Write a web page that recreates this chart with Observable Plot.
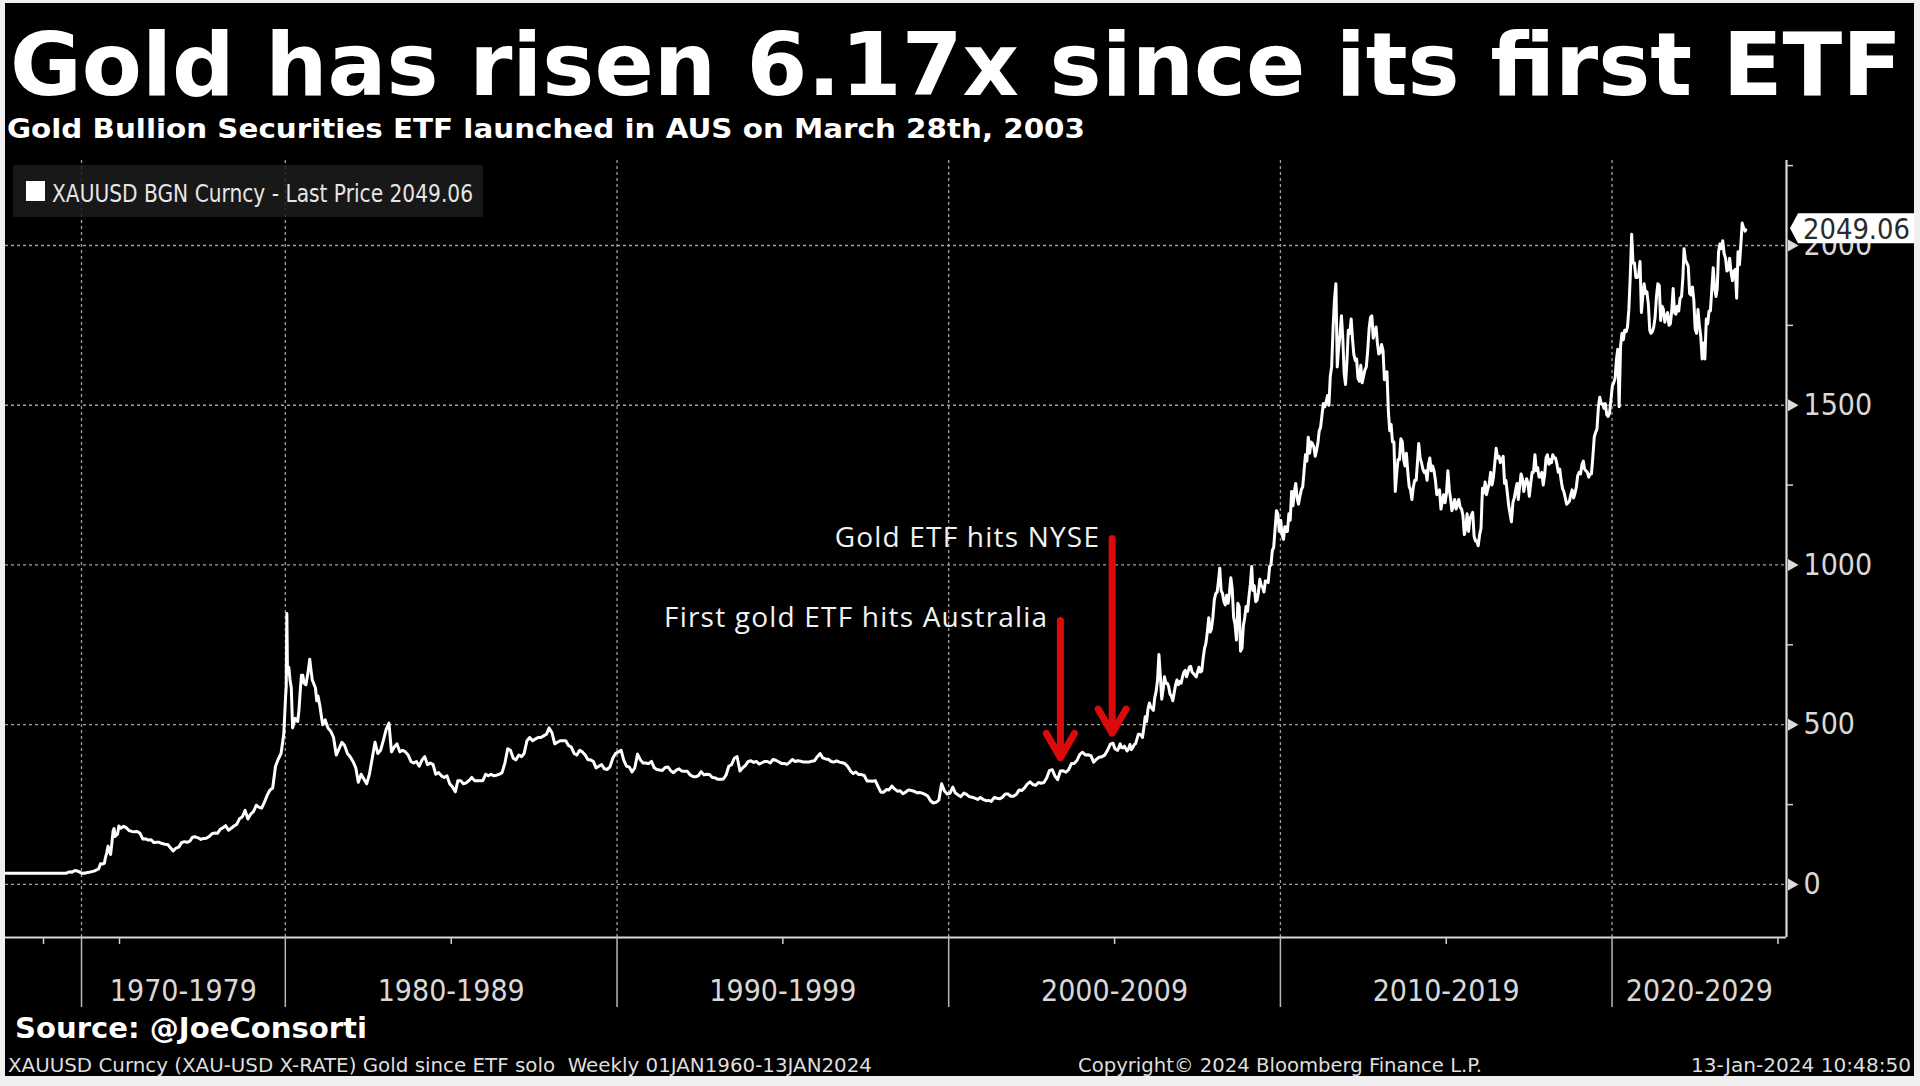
<!DOCTYPE html>
<html><head><meta charset="utf-8">
<script src="https://cdn.jsdelivr.net/npm/d3@7"></script>
<script src="https://cdn.jsdelivr.net/npm/@observablehq/plot@0.6"></script>
<style>
html,body{margin:0;padding:0;background:#efefef;width:1920px;height:1086px;overflow:hidden;}
#frame{position:absolute;left:5px;top:3px;width:1909px;height:1073px;background:#000;}
#chart{position:absolute;left:0;top:140px;}
#overlay{position:absolute;left:0;top:0;overflow:hidden;}
</style></head><body>
<div id="frame"></div>
<div id="chart"></div>
<svg id="overlay" width="1920" height="1086" xmlns="http://www.w3.org/2000/svg"></svg>
<script>
// ---------- DATA ----------
const early = [
 ["1960-01-01",35.1],["1961-01-01",35.3],["1962-01-01",35.1],["1963-01-01",35.1],["1964-01-01",35.1],
 ["1965-01-01",35.1],["1966-01-01",35.1],["1967-01-01",35.2],["1968-01-01",35.2],["1968-04-01",38],
 ["1968-07-01",39.5],["1968-10-01",38.5],["1969-01-01",42],["1969-04-01",43.5],["1969-07-01",41.5],
 ["1969-10-01",39],["1970-01-01",35],["1970-04-01",35.5],["1970-07-01",35.3],["1970-10-01",37.5],
 ["1971-01-01",38],["1971-04-01",39.5],["1971-07-01",41],["1971-10-01",42.5],["1972-01-01",46],
 ["1972-04-01",48.5],["1972-07-01",65],["1972-10-01",64],["1973-01-01",66],["1973-03-01",85],
 ["1973-05-01",100],["1973-07-01",120],["1973-09-01",103],["1973-11-01",94],["1974-01-01",130],
 ["1974-03-01",168],["1974-04-15",175],["1974-06-01",150],["1974-08-01",155],["1974-10-01",158],
 ["1974-12-01",183]
];
// monthly, Jan 1975 - Dec 1979
const monthly1975to1979 = [
 176,182,178,169,166,165,166,160,142,143,139,140,
 131,132,132,128,126,125,115,105,114,117,131,134,
 132,136,148,149,146,141,144,145,150,159,161,160,
 173,178,184,170,176,183,188,206,212,232,205,220,
 228,248,242,239,257,279,295,302,370,392,410,470
];
const weekly1980 = [
 ["1980-01-04",588],["1980-01-11",620],["1980-01-18",848],["1980-01-25",660],["1980-02-08",680],
 ["1980-02-22",640],["1980-03-07",615],["1980-03-21",490],["1980-04-04",505],["1980-04-18",520],
 ["1980-05-02",515],["1980-05-16",510],["1980-05-30",545],["1980-06-13",605],["1980-06-27",655],
 ["1980-07-11",655],["1980-07-25",630],["1980-08-15",625],["1980-09-05",660],["1980-09-26",705],
 ["1980-10-10",670],["1980-10-24",640],["1980-11-14",625],["1980-11-28",615],["1980-12-12",575],
 ["1980-12-26",590]
];
// monthly, Jan 1981 - Dec 2004
const monthly1981to2004 = [
 560,500,515,490,480,460,405,425,445,435,410,400,
 385,365,320,345,330,315,345,395,445,410,420,450,
 485,505,415,430,440,415,420,415,405,385,380,385,
 370,390,400,375,380,375,345,350,340,335,340,315,
 305,290,325,325,315,318,325,335,325,325,325,325,
 345,340,345,340,342,345,350,380,425,420,395,390,
 405,400,410,450,460,450,455,460,460,465,470,490,
 475,440,445,450,450,450,435,430,410,405,420,415,
 405,390,390,385,365,370,375,362,360,368,395,410,
 415,420,390,370,368,352,365,408,390,380,380,378,
 385,365,360,358,357,366,368,356,350,358,362,355,
 354,354,343,338,337,341,353,343,345,344,335,334,
 329,329,330,342,370,375,395,400,355,365,373,385,
 387,382,385,377,381,385,385,380,391,389,384,379,
 379,376,382,391,385,387,386,383,383,383,386,387,
 400,410,396,393,392,385,383,387,383,381,378,369,
 355,347,352,344,344,341,324,324,323,325,306,289,
 289,297,296,308,299,292,293,284,289,296,294,292,
 287,288,286,282,277,262,255,257,264,315,293,283,
 285,305,286,280,275,286,282,275,273,270,266,272,
 266,262,263,260,272,270,268,273,283,283,276,276,
 282,296,294,302,314,321,313,310,319,317,319,333,
 357,359,340,328,355,356,351,360,379,379,389,407,
 414,405,406,403,383,392,398,400,405,420,439,442
];
// twice a month, Jan 2005 - Dec 2023
const semiMonthly2005to2023 = [
 425,422,420,430,440,428,428,433,425,418,425,438,422,428,437,440,455,470,470,468,460,490,525,510,
 550,568,555,550,545,585,605,640,720,655,580,610,650,630,630,620,595,590,575,600,625,640,625,635,
 630,650,665,670,650,663,680,683,665,660,655,650,665,680,665,668,710,740,755,790,835,790,800,835,
 890,910,915,950,990,920,910,885,875,905,880,915,960,925,835,815,765,880,870,730,740,810,835,870,
 855,900,940,995,920,935,885,890,915,955,935,930,915,950,950,945,995,1000,1045,1055,1115,1170,1160,1105,
 1140,1095,1080,1120,1105,1105,1160,1140,1230,1185,1230,1255,1210,1190,1215,1235,1245,1295,1345,1325,1400,1350,1385,1380,
 1370,1340,1360,1385,1420,1430,1470,1505,1495,1510,1530,1500,1590,1620,1740,1830,1880,1620,1680,1720,1780,1710,1600,1565,
 1640,1735,1725,1770,1710,1660,1640,1645,1585,1575,1625,1570,1590,1610,1620,1670,1740,1775,1780,1710,1730,1745,1695,1660,
 1665,1690,1670,1580,1590,1605,1480,1420,1440,1385,1385,1230,1285,1330,1330,1395,1385,1330,1310,1350,1290,1245,1235,1205,
 1245,1265,1265,1325,1380,1335,1320,1300,1290,1295,1265,1315,1335,1295,1310,1295,1265,1220,1225,1235,1175,1200,1220,1195,
 1225,1295,1235,1205,1170,1185,1205,1175,1190,1205,1180,1175,1155,1095,1115,1160,1105,1145,1155,1165,1090,1075,1075,1060,
 1095,1115,1240,1225,1260,1220,1240,1255,1290,1250,1275,1320,1365,1335,1340,1320,1330,1340,1255,1265,1225,1185,1160,1135,
 1195,1210,1235,1255,1205,1245,1285,1270,1230,1255,1270,1255,1215,1255,1290,1290,1345,1295,1305,1275,1275,1290,1250,1280,
 1335,1345,1315,1330,1320,1345,1335,1335,1315,1290,1300,1265,1240,1230,1210,1190,1195,1200,1220,1235,1210,1225,1245,1280,
 1290,1285,1315,1325,1300,1295,1290,1275,1285,1285,1340,1400,1415,1425,1495,1525,1505,1505,1490,1505,1470,1465,1475,1515,
 1560,1570,1585,1645,1675,1495,1685,1725,1705,1735,1730,1745,1800,1900,2035,1945,1945,1900,1900,1905,1950,1790,1840,1880,
 1850,1855,1815,1735,1725,1730,1745,1775,1840,1880,1875,1765,1810,1800,1760,1780,1790,1750,1755,1795,1865,1790,1785,1810,
 1795,1835,1840,1900,1990,1955,1945,1935,1850,1845,1870,1830,1740,1725,1800,1750,1715,1645,1695,1645,1770,1755,1795,1795,
 1865,1930,1865,1840,1865,1980,2005,1990,2015,1975,1960,1920,1925,1960,1915,1890,1920,1925,1835,1980,1940,2000,2070,2055
];
const jan2024 = [["2024-01-05",2045],["2024-01-12",2049.06]];
const lastPrice = 2049.06;

const decadeStarts = [1970, 1980, 1990, 2000, 2010, 2020];
const decadeLabels = ["1970-1979", "1980-1989", "1990-1999", "2000-2009", "2010-2019", "2020-2029"];
const minorYearTicks = [1965, 1975, 1985, 1995, 2005, 2015, 2025];
const yTicks = [0, 500, 1000, 1500, 2000];
const yMinorTicks = [250, 750, 1250, 1750, 2250];
const annotationLabels = ["First gold ETF hits Australia", "Gold ETF hits NYSE"];
const annotationDates = ["2003-05-15", "2004-12-05"];
const annotationTop = [826, 1083];
const annotationTip = [397, 473];
const annotationTextY = [834, 1084];

// ---------- build series ----------
const series = [];
early.forEach(([d, v]) => series.push({date: new Date(d), price: v}));
monthly1975to1979.forEach((v, i) => series.push({date: new Date(Date.UTC(1975 + Math.floor(i / 12), i % 12, 15)), price: v}));
weekly1980.forEach(([d, v]) => series.push({date: new Date(d), price: v}));
monthly1981to2004.forEach((v, i) => series.push({date: new Date(Date.UTC(1981 + Math.floor(i / 12), i % 12, 15)), price: v}));
semiMonthly2005to2023.forEach((v, i) => {
  const m = Math.floor(i / 2);
  series.push({date: new Date(Date.UTC(2005 + Math.floor(m / 12), m % 12, i % 2 ? 19 : 4)), price: v});
});
jan2024.forEach(([d, v]) => series.push({date: new Date(d), price: v}));
series.sort((a, b) => a.date - b.date);

const annotations = annotationLabels.map((label, i) => ({
  label, date: new Date(annotationDates[i]), top: annotationTop[i], tip: annotationTip[i], ty: annotationTextY[i]
}));

// ---------- scales ----------
const xDomain = [new Date("1960-01-01"), new Date("1975-01-01"), new Date("2025-04-05")];
const xRange = [5, 119, 1786];
const yDomain = [-166, 2266];
const xOpts = {type: "utc", domain: xDomain, range: xRange};
const xs = Plot.scale({x: xOpts});
const yearDate = y => new Date(Date.UTC(y, 0, 1));
const decadeDates = decadeStarts.map(yearDate);
const minorDates = minorYearTicks.map(yearDate);
const labelDates = decadeStarts.map(y => {
  const a = xs.apply(yearDate(y));
  const b = Math.min(xs.apply(yearDate(y + 10)), xRange[2]);
  return xs.invert((a + b) / 2);
});
const labelMap = new Map(labelDates.map((d, i) => [+d, decadeLabels[i]]));
const xEnd = xDomain[xDomain.length - 1];

const AXIS_FONT = "'DejaVu Sans Condensed', 'Liberation Sans Narrow', 'DejaVu Sans', sans-serif";
const RED = "#dc0a0a";

const chart = Plot.plot({
  width: 1920, height: 880,
  marginTop: 20, marginBottom: 83, marginLeft: 5, marginRight: 134,
  x: xOpts,
  y: {domain: yDomain},
  style: {background: "transparent", color: "#dcdcdc", fontFamily: AXIS_FONT, overflow: "visible"},
  marks: [
    Plot.gridY({ticks: yTicks, stroke: "#a0a0a0", strokeOpacity: 1, strokeWidth: 1.3, strokeDasharray: "3,3"}),
    Plot.gridX({ticks: decadeDates, stroke: "#a0a0a0", strokeOpacity: 1, strokeWidth: 1.3, strokeDasharray: "3,3"}),
    Plot.ruleY([yDomain[0]], {stroke: "#d9d9d9", strokeWidth: 2.2}),
    Plot.ruleX([xEnd], {stroke: "#d9d9d9", strokeWidth: 2.2}),
    Plot.axisX({ticks: decadeDates, tickSize: 70, tickFormat: () => "", stroke: "#b8b8b8", strokeWidth: 1.5}),
    Plot.axisX({ticks: minorDates, tickSize: 7, tickFormat: () => "", stroke: "#cfcfcf", strokeWidth: 1.5}),
    Plot.axisX({ticks: labelDates, tickSize: 0, tickPadding: 42, tickFormat: d => labelMap.get(+d), fontSize: 30, fill: "#d8d8d8", fontFamily: AXIS_FONT}),
    Plot.axisY({anchor: "right", ticks: yMinorTicks, tickSize: 6, tickFormat: () => "", stroke: "#cfcfcf", strokeWidth: 1.5}),
    Plot.axisY({anchor: "right", ticks: yTicks, tickSize: 0, tickPadding: 17, tickFormat: d => String(d), fontSize: 30, fill: "#d8d8d8", fontFamily: AXIS_FONT}),
    Plot.dot(yTicks, {x: () => xEnd, y: d => d, symbol: "triangle", r: 4.5, rotate: 90, fill: "#dcdcdc", stroke: "none", dx: 5}),
    Plot.line(series, {x: "date", y: "price", stroke: "#ffffff", strokeWidth: 3, strokeLinejoin: "round"}),
    Plot.arrow(annotations, {x1: "date", x2: "date", y1: "top", y2: "tip", stroke: RED, strokeWidth: 7, headLength: 6}),
    Plot.text(annotations, {x: "date", y: "ty", text: "label", textAnchor: "end", dx: -12, fill: "#f2f2f2", fontSize: 28, fontFamily: "'Open Sans', 'Noto Sans', sans-serif", fontWeight: 500})
  ]
});
// widen the annotation lettering a little, like the reference's rounded face
chart.querySelectorAll("text").forEach(t => {
  if (annotationLabels.includes(t.textContent)) t.style.letterSpacing = "1.2px";
});
document.getElementById("chart").appendChild(chart);

// ---------- titles, legend, footer, last-price tag ----------
const NS = "http://www.w3.org/2000/svg";
const ov = document.getElementById("overlay");
function el(name, attrs, parent = ov) {
  const e = document.createElementNS(NS, name);
  for (const k in attrs) e.setAttribute(k, attrs[k]);
  parent.appendChild(e);
  return e;
}
function txt(s, x, y, len, size, family, weight, fill) {
  const t = el("text", {x, y, "font-size": size, "font-family": family, "font-weight": weight, fill,
    textLength: len, lengthAdjust: "spacingAndGlyphs"});
  t.style.whiteSpace = "pre";
  t.textContent = s;
  return t;
}
const BOLD = "'DejaVu Sans', Verdana, sans-serif";
const COND = "'DejaVu Sans Condensed', 'Liberation Sans Narrow', 'DejaVu Sans', sans-serif";

txt("Gold has risen 6.17x since its first ETF", 10, 95, 1892, 87, BOLD, "bold", "#ffffff");
txt("Gold Bullion Securities ETF launched in AUS on March 28th, 2003", 7, 138, 1078, 27, BOLD, "bold", "#ffffff");

// legend
el("rect", {x: 13, y: 165, width: 470, height: 52, fill: "#1c1c1c", "fill-opacity": 0.85, rx: 2});
el("rect", {x: 26, y: 181, width: 19, height: 20, fill: "#ffffff"});
txt("XAUUSD BGN Curncy - Last Price " + lastPrice.toFixed(2), 52, 202, 421, 25, COND, "normal", "#e6e6e6");

// footer
txt("Source: @JoeConsorti", 15, 1038, 352, 28, BOLD, "bold", "#ffffff");
txt("XAUUSD Curncy (XAU-USD X-RATE) Gold since ETF solo  Weekly 01JAN1960-13JAN2024", 8, 1072, 864, 20, COND, "normal", "#dedede");
txt("Copyright\u00A9 2024 Bloomberg Finance L.P.", 1078, 1072, 404, 20, COND, "normal", "#dedede");
txt("13-Jan-2024 10:48:50", 1691, 1072, 220, 20, COND, "normal", "#dedede");

// last price tag
const yPx = chart.scale("y").apply(lastPrice) + 140 - 1;
const xAxisPx = chart.scale("x").apply(xEnd);
el("path", {d: `M${xAxisPx + 4},${yPx} L${xAxisPx + 12},${yPx - 15} L1914,${yPx - 15} L1914,${yPx + 15} L${xAxisPx + 12},${yPx + 15} Z`, fill: "#ffffff"});
txt(lastPrice.toFixed(2), 1803, yPx + 10.5, 107, 29, COND, "normal", "#2a2a2a");
</script></body></html>
